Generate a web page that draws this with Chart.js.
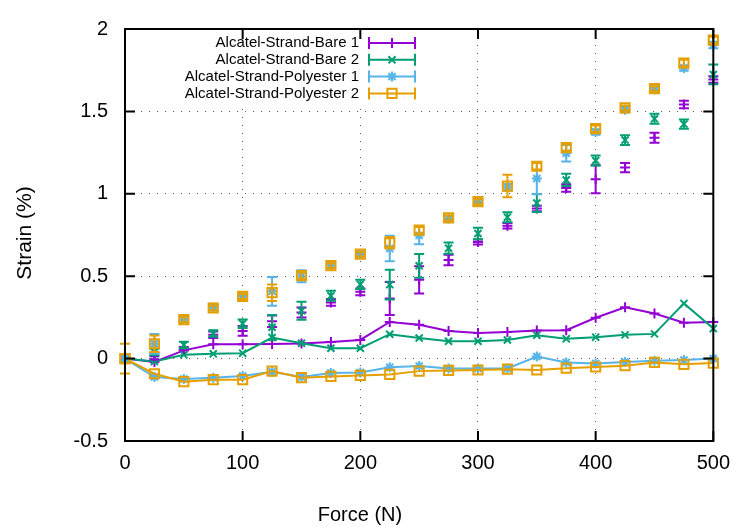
<!DOCTYPE html>
<html>
<head>
<meta charset="utf-8">
<script src="https://cdn.jsdelivr.net/npm/chart.js@4.4.0/dist/chart.umd.min.js"></script>
<style>
    html, body { margin: 0; padding: 0; background: #fff; }
</style>
</head>
<body>
<canvas id="myChart" width="740" height="527"></canvas>
<script>
// force steps (N)
var forces = [0, 25, 50, 75, 100, 125, 150, 175, 200, 225, 250, 275, 300, 325, 350, 375, 400, 425, 450, 475, 500];

// mean strain with error bars (%)
var barBare1 = [0, 0.015, 0.06, 0.145, 0.168, 0.227, 0.28, 0.341, 0.405, 0.365, 0.478, 0.598, 0.708, 0.806, 0.911, 1.035, 1.088, 1.159, 1.34, 1.542, 1.694];
var errBare1 = [0, 0.02, 0.01, 0.02, 0.03, 0.035, 0.03, 0.02, 0.02, 0.1, 0.083, 0.032, 0.015, 0.017, 0.017, 0.023, 0.085, 0.028, 0.03, 0.023, 0.02];
var barBare2 = [0, 0.04, 0.083, 0.152, 0.212, 0.19, 0.29, 0.381, 0.45, 0.449, 0.563, 0.67, 0.759, 0.858, 0.944, 1.084, 1.202, 1.326, 1.455, 1.423, 1.724];
var errBare2 = [0, 0.02, 0.02, 0.02, 0.026, 0.075, 0.055, 0.03, 0.028, 0.09, 0.072, 0.034, 0.035, 0.03, 0.055, 0.037, 0.03, 0.03, 0.03, 0.028, 0.06];
var barPoly1 = [0, 0.09, 0.236, 0.31, 0.38, 0.408, 0.5, 0.565, 0.634, 0.668, 0.747, 0.85, 0.95, 1.04, 1.093, 1.246, 1.375, 1.51, 1.635, 1.763, 1.903];
var errPoly1 = [0, 0.06, 0.015, 0.015, 0.015, 0.087, 0.036, 0.015, 0.015, 0.078, 0.053, 0.015, 0.015, 0.02, 0.095, 0.05, 0.015, 0.015, 0.015, 0.015, 0.02];
var barPoly2 = [0, 0.09, 0.236, 0.307, 0.377, 0.4, 0.504, 0.564, 0.634, 0.703, 0.779, 0.854, 0.952, 1.047, 1.167, 1.28, 1.395, 1.521, 1.638, 1.793, 1.933];
var errPoly2 = [0.09, 0.05, 0.015, 0.015, 0.015, 0.05, 0.02, 0.015, 0.015, 0.035, 0.02, 0.015, 0.015, 0.068, 0.02, 0.02, 0.02, 0.015, 0.015, 0.02, 0.02];

// residual strain lines (%)
var lineBare1 = [0, -0.02, 0.05, 0.087, 0.087, 0.088, 0.092, 0.1, 0.113, 0.222, 0.206, 0.168, 0.156, 0.162, 0.17, 0.172, 0.248, 0.311, 0.274, 0.218, 0.222];
var lineBare2 = [0, -0.017, 0.023, 0.029, 0.033, 0.128, 0.093, 0.063, 0.063, 0.148, 0.125, 0.105, 0.105, 0.113, 0.142, 0.12, 0.13, 0.144, 0.15, 0.335, 0.182];
var linePoly1 = [0, -0.112, -0.124, -0.116, -0.106, -0.08, -0.112, -0.088, -0.084, -0.052, -0.045, -0.06, -0.06, -0.06, 0.013, -0.023, -0.029, -0.021, -0.013, -0.009, 0];
var linePoly2 = [0, -0.092, -0.14, -0.128, -0.128, -0.076, -0.116, -0.108, -0.102, -0.096, -0.076, -0.072, -0.069, -0.064, -0.069, -0.058, -0.051, -0.043, -0.023, -0.035, -0.027];

var labels = ['Alcatel-Strand-Bare 1', 'Alcatel-Strand-Bare 2', 'Alcatel-Strand-Polyester 1', 'Alcatel-Strand-Polyester 2'];
var colors = ['#9400d3', '#009e73', '#56b4e9', '#e69f00'];
var marks = ['cross', 'crossRot', 'star', 'rect'];
var radii = [5, 5, 5, 6.5];

var FONT = '"Liberation Sans", Arial, sans-serif';

var toPoints = function (ys) {
    return forces.map(function (f, i) { return {x: f, y: ys[i]}; });
};

var datasets = [];
var bars = [barBare1, barBare2, barPoly1, barPoly2];
var errs = [errBare1, errBare2, errPoly1, errPoly2];
var lines = [lineBare1, lineBare2, linePoly1, linePoly2];

// lines without legend entry
for (var i = 0; i < 4; i++) {
    datasets.push({
        label: labels[i] + ' (line)',
        data: toPoints(lines[i]),
        borderColor: colors[i],
        backgroundColor: 'rgba(0,0,0,0)',
        borderWidth: 2,
        pointStyle: marks[i],
        pointRadius: radii[i],
        pointBorderWidth: 2,
        pointBorderColor: colors[i],
        pointBackgroundColor: 'rgba(0,0,0,0)',
        showLine: true,
        clip: false,
        order: 20 - i
    });
}
// points with error bars
for (var j = 0; j < 4; j++) {
    datasets.push({
        label: labels[j],
        data: toPoints(bars[j]),
        errs: errs[j],
        borderColor: colors[j],
        backgroundColor: 'rgba(0,0,0,0)',
        showLine: false,
        pointStyle: marks[j],
        pointRadius: radii[j],
        pointBorderWidth: 2,
        pointBorderColor: colors[j],
        pointBackgroundColor: 'rgba(0,0,0,0)',
        clip: false,
        order: 10 - j
    });
}

// error bars, frame, inward ticks, key and axis titles (gnuplot look)
var gnuplotLook = {
    id: 'gnuplotLook',
    afterDatasetDraw: function (chart, args) {
        var ds = chart.data.datasets[args.index];
        if (!ds.errs) return;
        var ctx = chart.ctx, sx = chart.scales.x, sy = chart.scales.y;
        ctx.save();
        ctx.strokeStyle = ds.borderColor;
        ctx.lineWidth = 2;
        ds.data.forEach(function (p, k) {
            var e = ds.errs[k];
            if (!e) return;
            var px = sx.getPixelForValue(p.x);
            var top = sy.getPixelForValue(p.y + e);
            var bot = sy.getPixelForValue(p.y - e);
            ctx.beginPath();
            ctx.moveTo(px, top); ctx.lineTo(px, bot);
            ctx.moveTo(px - 5, top); ctx.lineTo(px + 5, top);
            ctx.moveTo(px - 5, bot); ctx.lineTo(px + 5, bot);
            ctx.stroke();
        });
        ctx.restore();
    },
    afterDraw: function (chart) {
        var ctx = chart.ctx, a = chart.chartArea, sx = chart.scales.x, sy = chart.scales.y;
        ctx.save();

        // key
        ctx.fillStyle = '#fff';
        ctx.fillRect(175, 33, 250, 70);
        ctx.font = '15px ' + FONT;
        ctx.textAlign = 'right';
        ctx.textBaseline = 'middle';
        for (var n = 0; n < 4; n++) {
            var ry = 43 + n * 16.8;
            ctx.fillStyle = '#000';
            ctx.fillText(labels[n], 359, ry);
            ctx.strokeStyle = colors[n];
            ctx.lineWidth = 2;
            ctx.beginPath();
            ctx.moveTo(369, ry); ctx.lineTo(415, ry);
            ctx.moveTo(369, ry - 6); ctx.lineTo(369, ry + 6);
            ctx.moveTo(415, ry - 6); ctx.lineTo(415, ry + 6);
            ctx.stroke();
            ctx.fillStyle = 'rgba(0,0,0,0)';
            Chart.helpers.drawPoint(ctx, {pointStyle: marks[n], radius: radii[n], rotation: 0, borderWidth: 2}, 392, ry);
        }

        // frame
        ctx.strokeStyle = '#000';
        ctx.lineWidth = 2;
        ctx.strokeRect(a.left, a.top, a.right - a.left, a.bottom - a.top);

        // inward ticks on all sides
        ctx.beginPath();
        sx.ticks.forEach(function (t) {
            var px = sx.getPixelForValue(t.value);
            ctx.moveTo(px, a.bottom); ctx.lineTo(px, a.bottom - 10);
            ctx.moveTo(px, a.top); ctx.lineTo(px, a.top + 10);
        });
        sy.ticks.forEach(function (t) {
            var py = sy.getPixelForValue(t.value);
            ctx.moveTo(a.left, py); ctx.lineTo(a.left + 10, py);
            ctx.moveTo(a.right, py); ctx.lineTo(a.right - 10, py);
        });
        ctx.stroke();

        // axis titles
        ctx.fillStyle = '#000';
        ctx.font = '20px ' + FONT;
        ctx.textAlign = 'center';
        ctx.textBaseline = 'alphabetic';
        ctx.fillText('Force (N)', 360, 521);
        ctx.font = '21px ' + FONT;
        ctx.translate(31, 233);
        ctx.rotate(-Math.PI / 2);
        ctx.fillText('Strain (%)', 0, 0);
        ctx.restore();
    }
};

var ctx = document.getElementById('myChart').getContext('2d');

new Chart(ctx, {
    type: 'line',
    data: {datasets: datasets},
    plugins: [gnuplotLook],
    options: {
        responsive: false,
        animation: false,
        devicePixelRatio: 1,
        layout: {padding: {top: 22, right: 25, left: 0, bottom: 0}},
        plugins: {
            legend: {display: false},
            tooltip: {enabled: false}
        },
        scales: {
            x: {
                type: 'linear',
                min: 0,
                max: 500,
                afterFit: function (s) { s.height = 86; },
                ticks: {stepSize: 100, color: '#000', padding: 10, maxRotation: 0, font: {family: FONT, size: 20}},
                grid: {color: 'rgba(0,0,0,0.65)', lineWidth: 1, drawTicks: false},
                border: {display: false, dash: [1, 7]}
            },
            y: {
                min: -0.5,
                max: 2,
                afterFit: function (s) { s.width = 125; },
                ticks: {
                    stepSize: 0.5, color: '#000', padding: 17, font: {family: FONT, size: 20},
                    callback: function (v) { return String(v); }
                },
                grid: {color: 'rgba(0,0,0,0.65)', lineWidth: 1, drawTicks: false},
                border: {display: false, dash: [1, 7]}
            }
        }
    }
});
</script>
</body>
</html>
